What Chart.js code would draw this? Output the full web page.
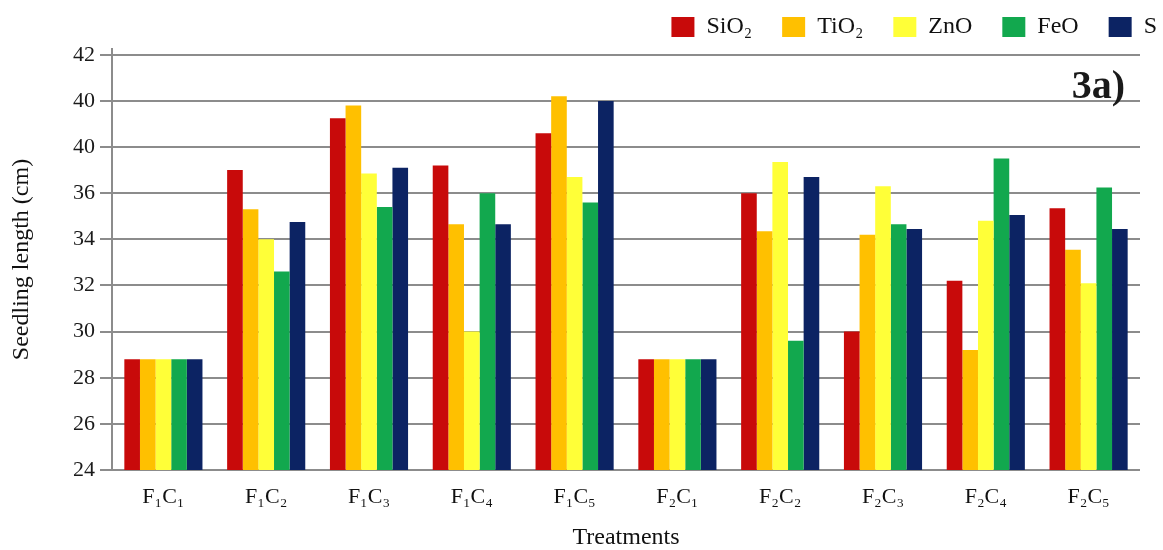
<!DOCTYPE html>
<html>
<head>
<meta charset="utf-8">
<title>Seedling length</title>
<script src="https://cdn.jsdelivr.net/npm/chart.js@4.4.1/dist/chart.umd.min.js"></script>
<style>
    body { margin: 0; background: #fff; }
    #wrap { width: 1163px; height: 550px; position: relative; }
</style>
</head>
<body>
<div id="wrap"><canvas id="seedlingChart"></canvas></div>
<script>
// treatments on the x axis
const treatments = ['F₁C₁', 'F₁C₂', 'F₁C₃', 'F₁C₄', 'F₁C₅', 'F₂C₁', 'F₂C₂', 'F₂C₃', 'F₂C₄', 'F₂C₅'];

// seedling length (cm) per nanoparticle
const sio2 = [28.8, 37.0, 39.25, 37.2, 38.6, 28.8, 36.0, 30.0, 32.2, 35.35];
const tio2 = [28.8, 35.3, 39.8, 34.65, 40.2, 28.8, 34.35, 34.2, 29.2, 33.55];
const zno  = [28.8, 34.0, 36.85, 30.0, 36.7, 28.8, 37.35, 36.3, 34.8, 32.1];
const feo  = [28.8, 32.6, 35.4, 36.0, 35.6, 28.8, 29.6, 34.65, 37.5, 36.25];
const sCtl = [28.8, 34.75, 37.1, 34.65, 40.0, 28.8, 36.7, 34.45, 35.05, 34.45];

// y ticks, labelled as printed in the figure
const yTickValues = [24, 26, 28, 30, 32, 34, 36, 38, 40, 42];
const yTickLabels = ['24', '26', '28', '30', '32', '34', '36', '40', '40', '42'];

const serif = "'Liberation Serif', 'Times New Roman', serif";

// the "3a)" panel tag
const panelTag = {
    id: 'panelTag',
    afterDraw(chart) {
        const ctx = chart.ctx;
        ctx.save();
        ctx.font = 'bold 40px ' + serif;
        ctx.fillStyle = '#1a1a1a';
        ctx.textAlign = 'right';
        ctx.textBaseline = 'alphabetic';
        ctx.fillText('3a)', 1125, 98);
        ctx.restore();
    }
};

function manageSeedlingChart() {
    let ctx = document.getElementById('seedlingChart').getContext('2d');
    new Chart(ctx, {
        type: 'bar',
        data: {
            labels: treatments,
            datasets: [
                { label: 'SiO₂', data: sio2, backgroundColor: '#c80a0a' },
                { label: 'TiO₂', data: tio2, backgroundColor: '#ffc000' },
                { label: 'ZnO', data: zno, backgroundColor: '#ffff38' },
                { label: 'FeO', data: feo, backgroundColor: '#12a84e' },
                { label: 'S', data: sCtl, backgroundColor: '#0c2363' }
            ]
        },
        options: {
            responsive: true,
            maintainAspectRatio: false,
            animation: false,
            layout: { padding: { top: 9, left: 0, right: 0, bottom: 0 } },
            datasets: {
                bar: { barPercentage: 1.0, categoryPercentage: 0.76, borderWidth: 0 }
            },
            plugins: {
                tooltip: { enabled: false },
                legend: {
                    position: 'top',
                    align: 'end',
                    labels: {
                        boxWidth: 23,
                        boxHeight: 20,
                        padding: 6,
                        color: '#111',
                        font: { family: serif, size: 24 },
                        generateLabels(chart) {
                            const items = Chart.defaults.plugins.legend.labels.generateLabels(chart);
                            items.forEach((it, i) => {
                                if (i < items.length - 1) it.text = it.text + '    ';
                            });
                            return items;
                        }
                    }
                }
            },
            scales: {
                x: {
                    grid: { display: false, drawTicks: false },
                    border: { display: false },
                    ticks: {
                        color: '#111',
                        padding: 14,
                        maxRotation: 0,
                        font: { family: serif, size: 22 }
                    },
                    title: {
                        display: true,
                        text: 'Treatments',
                        color: '#111',
                        padding: { top: 0, bottom: 0 },
                        font: { family: serif, size: 24, lineHeight: 1 }
                    },
                    afterFit(scale) { scale.height = 80; }
                },
                y: {
                    min: 24,
                    max: 42.25,
                    afterBuildTicks(scale) {
                        scale.ticks = yTickValues.map(v => ({ value: v }));
                    },
                    grid: { color: '#8c8c8c', lineWidth: 2, tickLength: 12 },
                    border: { display: true, color: '#8c8c8c', width: 2 },
                    ticks: {
                        color: '#1a1a1a',
                        padding: 5,
                        font: { family: serif, size: 22 },
                        callback: function(value) {
                            const i = yTickValues.indexOf(value);
                            return i >= 0 ? yTickLabels[i] : '';
                        }
                    },
                    title: {
                        display: true,
                        text: 'Seedling length (cm)',
                        color: '#111',
                        padding: { top: 10, bottom: 0 },
                        font: { family: serif, size: 24, lineHeight: 1 }
                    },
                    afterFit(scale) { scale.width = 112; }
                },
                yRight: {
                    position: 'right',
                    display: true,
                    grid: { display: false, drawTicks: false },
                    border: { display: false },
                    ticks: { display: false },
                    afterFit(scale) { scale.width = 23; }
                }
            }
        },
        plugins: [panelTag]
    });
}

manageSeedlingChart();
</script>
</body>
</html>
